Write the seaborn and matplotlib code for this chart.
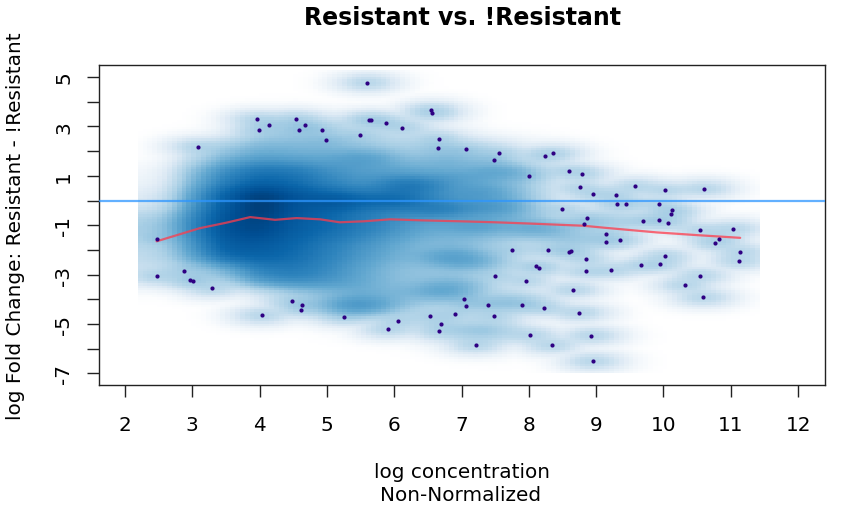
import numpy as np
import pandas as pd
import seaborn as sns
import matplotlib
matplotlib.use("Agg")
import matplotlib.pyplot as plt
from matplotlib.colors import LinearSegmentedColormap

title = "Resistant vs. !Resistant"
xlabel = "log concentration"
sublabel = "Non-Normalized"
ylabel = "log Fold Change: Resistant - !Resistant"
x_ticks = list(range(2, 13))
y_ticks = list(range(-7, 6))

point_x = [5.60,6.55,6.56,6.66,6.65,3.96,4.14,3.99,4.54,4.67,4.59,4.92,4.98,5.49,5.63,5.65,5.88,6.12,3.08,
           2.47,2.47,2.88,2.97,3.01,3.30,4.03,4.48,4.63,4.62,5.26,5.91,6.05,6.53,6.69,6.67,6.90,
           7.06,7.56,7.48,8.00,8.24,8.36,8.60,8.79,8.76,8.96,8.50,9.29,9.31,9.45,9.57,9.94,10.03,10.60,10.12,10.11,
           8.87,8.82,9.69,9.93,10.07,11.03,10.55,9.15,9.15,9.35,10.82,10.76,11.14,11.12,10.02,9.95,9.67,9.22,8.85,8.85,
           8.62,8.59,8.29,7.75,8.11,8.15,7.50,7.96,10.54,10.32,10.59,8.65,7.03,7.07,7.39,7.48,7.90,8.23,8.75,
           8.02,8.34,8.93,8.95,7.21]
point_y = [4.77,3.65,3.54,2.50,2.13,3.29,3.08,2.84,3.31,3.08,2.84,2.87,2.45,2.65,3.26,3.25,3.15,2.95,2.17,
           -1.55,-3.06,-2.84,-3.22,-3.27,-3.56,-4.65,-4.08,-4.24,-4.42,-4.70,-5.22,-4.87,-4.69,-5.00,-5.30,-4.61,
           2.07,1.92,1.63,0.99,1.80,1.91,1.21,1.06,0.53,0.26,-0.36,0.22,-0.15,-0.15,0.57,-0.15,0.41,0.48,-0.38,-0.53,
           -0.72,-0.95,-0.82,-0.79,-0.90,-1.15,-1.21,-1.37,-1.68,-1.60,-1.55,-1.72,-2.07,-2.45,-2.26,-2.58,-2.63,-2.83,-2.87,-2.38,
           -2.06,-2.07,-1.99,-2.00,-2.65,-2.75,-3.04,-3.25,-3.04,-3.43,-3.92,-3.61,-3.97,-4.26,-4.22,-4.68,-4.22,-4.35,-4.55,
           -5.45,-5.85,-5.47,-6.51,-5.85]

trend_x = [2.47,3.11,3.50,3.86,4.23,4.55,4.90,5.19,5.55,5.94,6.40,6.98,7.50,8.00,8.81,9.16,9.90,10.50,11.14]
trend_y = [-1.65,-1.12,-0.90,-0.67,-0.78,-0.71,-0.76,-0.88,-0.84,-0.76,-0.80,-0.84,-0.88,-0.93,-1.02,-1.11,-1.29,-1.40,-1.51]

shade_x = [2.5,3.0,3.5,4.0,4.5,5.0,5.5,6.0,6.5,7.0,7.5,8.0,8.5,9.0,9.5,10.0,10.5,11.0,11.5]
shade_y = [4,3,2,1,0,-1,-2,-3,-4,-5,-6,-7]
shade_rows = [
    [0,0,0,0,0,0,0,0,0,0,0,0,0,0,0,0,0,0,0],
    [0,0,.05,.20,.25,.22,.18,.15,.15,.05,0,0,0,0,0,0,0,0,0],
    [0,.18,.30,.36,.34,.34,.31,.26,.26,.26,.22,.10,.05,0,0,0,0,0,0],
    [.05,.33,.50,.60,.58,.48,.42,.42,.38,.34,.32,.26,.10,.05,0,0,0,0,0],
    [.12,.42,.68,.92,.74,.64,.54,.50,.48,.40,.36,.28,.12,.08,.08,.06,0,0,0],
    [.26,.50,.76,.82,.68,.62,.54,.46,.38,.34,.34,.32,.18,.12,.10,.08,.05,.05,.05],
    [.20,.42,.68,.68,.62,.52,.44,.36,.30,.32,.24,.14,.08,.05,0,0,0,0,0],
    [.16,.22,.30,.50,.54,.48,.38,.30,.28,.28,.16,.10,.05,0,0,0,0,0,0],
    [0,0,0,.10,.20,.28,.36,.34,.26,.22,.16,.10,.05,0,0,0,0,0,0],
    [0,0,0,0,0,.03,.05,.14,.14,.14,.16,.08,0,0,0,0,0,0,0],
    [0,0,0,0,0,0,0,0,0,0,.05,0,0,0,0,0,0,0,0],
    [0,0,0,0,0,0,0,0,0,0,0,0,0,0,0,0,0,0,0],
]
streak_x = [7.45,6.68,6.88,7.57,7.27,6.83,8.17,7.17,8.66,9.16,6.83,7.17,6.68,7.67,7.27,6.88,6.23,5.98,5.15,5.44,5.54]
streak_y = [-0.27,-0.35,0.87,1.15,0.34,1.60,-1.15,-1.03,-1.56,-0.87,-2.28,-2.50,-3.70,-4.10,-5.28,-3.46,0.59,0.0,-0.05,-4.26,1.68]
streak_level = [.36,.44,.31,.33,.33,.26,.33,.33,.26,.24,.34,.31,.33,.27,.27,.29,.48,.52,.56,.40,.34]
ramp_colors = ["#FFFFFF","#DCE9F4","#A9CFE5","#63A8D0","#2F84BD","#0B66AA","#004F94","#00386F","#021A30"]

# pixel grid of the density picture
xe = np.linspace(2.19, 11.43, 129)
ye = np.linspace(-7.0, 5.3, 129)
xc = (xe[:-1] + xe[1:]) / 2
yc = (ye[:-1] + ye[1:]) / 2
X, Y = np.meshgrid(xc, yc, indexing="ij")

# broad shade, smoothed between readings
gx, gy = np.meshgrid(shade_x, shade_y)
vals = np.array(shade_rows).ravel()
num = np.zeros_like(X); den = np.zeros_like(X)
for a, b, v in zip(gx.ravel(), gy.ravel(), vals):
    k = np.exp(-((X - a) / 0.28) ** 2 / 2 - ((Y - b) / 0.45) ** 2 / 2)
    num += k * v; den += k
broad = num / den
# each drawn point adds its own little kernel; picture shows density^0.25
dens = broad ** 4
for a, b in zip(point_x, point_y):
    dens += 0.21 ** 4 * np.exp(-((X - a) / 0.20) ** 2 / 2 - ((Y - b) / 0.17) ** 2 / 2)
for a, b, v in zip(streak_x, streak_y, streak_level):
    dens += v ** 4 * np.exp(-((X - a) / 0.32) ** 2 / 2 - ((Y - b) / 0.24) ** 2 / 2)
Z = dens ** 0.25

sns.set_theme(style="white", rc={"font.family": "DejaVu Sans"})
fig = plt.figure(figsize=(8.56, 5.06), dpi=100)
ax = fig.add_axes([99/856, (506-386)/506, 726/856, 320/506])
cmap = LinearSegmentedColormap.from_list("ramp", ramp_colors)
sns.histplot(x=X.ravel(), y=Y.ravel(), weights=Z.ravel(), bins=[xe, ye], cmap=cmap,
             thresh=None, vmin=0, vmax=1, ax=ax, rasterized=True)
ax.axhline(0, color="#2E96FF", alpha=0.75, lw=1.6, zorder=3)
sns.lineplot(x=trend_x, y=trend_y, sort=False, estimator=None, color="#FF3B4B", alpha=0.75, lw=1.6, ax=ax, zorder=4)
sns.scatterplot(x=point_x, y=point_y, color="#2E0082", s=9, linewidth=0, ax=ax, zorder=5)

ax.set_xlim(1.614, 12.40)
ax.set_ylim(-7.47, 5.49)
ax.set_xticks(x_ticks)
ax.set_xticklabels([str(t) for t in x_ticks])
ax.set_yticks(y_ticks)
ax.set_yticklabels([str(t) if t % 2 else "" for t in y_ticks], rotation=90, va="center")
ax.tick_params(axis="x", length=8.6, width=1, color="#222222", labelsize=14.4, pad=13, labelcolor="black", bottom=True)
ax.tick_params(axis="y", length=8.6, width=1, color="#222222", labelsize=14.4, pad=10, labelcolor="black", left=True)
for s in ax.spines.values():
    s.set_visible(True); s.set_color("#222222"); s.set_linewidth(1.0)
ax.set_xlabel(""); ax.set_ylabel("")
fig.text(462/856, 1-18/506, title, ha="center", va="center", fontsize=17, fontweight="bold", color="black")
fig.text(462/856, 1-472/506, xlabel, ha="center", va="center", fontsize=14.4, color="black")
fig.text(461/856, 1-496/506, sublabel, ha="center", va="center", fontsize=14.4, color="black")
fig.text(16/856, 1-226/506, ylabel, ha="center", va="center", rotation=90, fontsize=14.4, color="black")
fig.savefig("out.png", dpi=100)
